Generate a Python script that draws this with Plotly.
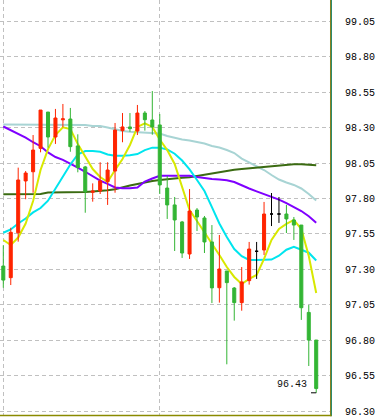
import plotly.graph_objects as go

# ---- data ----
opens = [97.324, 97.242, 97.559, 97.924, 97.989, 98.154, 98.410, 98.234, 98.355, 98.361,
         98.171, 98.023, 97.844, 97.853, 97.919, 97.994, 98.279, 98.305, 98.276, 98.403,
         98.354, 98.319, 97.874, 97.755, 97.635, 97.409, 97.719, 97.663, 97.494, 97.171,
         97.289, 97.169, 97.066, 97.221, 97.428, 97.437, 97.691, 97.691, 97.691, 97.649,
         97.613, 96.997, 96.802]
highs = [97.470, 97.594, 98.018, 97.994, 98.248, 98.424, 98.410, 98.432, 98.467, 98.439,
         98.253, 98.030, 97.907, 98.056, 98.056, 98.333, 98.403, 98.403, 98.460, 98.417,
         98.558, 98.396, 97.959, 97.811, 97.642, 97.867, 97.733, 97.677, 97.613, 97.543,
         97.289, 97.176, 97.317, 97.494, 97.494, 97.776, 97.839, 97.811, 97.755, 97.670,
         97.613, 97.049, 96.802]
lows = [97.171, 97.190, 97.496, 97.795, 97.841, 98.126, 98.159, 98.185, 98.302, 98.130,
        97.985, 97.700, 97.778, 97.832, 97.755, 97.841, 98.197, 98.271, 98.248, 98.279,
        98.250, 97.832, 97.656, 97.430, 97.381, 97.374, 97.571, 97.416, 97.063, 97.066,
        96.631, 96.939, 97.009, 97.193, 97.233, 97.402, 97.606, 97.628, 97.557, 97.508,
        96.944, 96.619, 96.430]
closes = [97.225, 97.562, 97.931, 97.980, 98.142, 98.424, 98.234, 98.368, 98.362, 98.166,
          98.018, 97.848, 97.853, 97.924, 98.001, 98.283, 98.305, 98.293, 98.403, 98.356,
          98.305, 97.896, 97.755, 97.649, 97.416, 97.712, 97.670, 97.494, 97.170, 97.303,
          97.207, 97.066, 97.212, 97.444, 97.428, 97.691, 97.691, 97.691, 97.656, 97.613,
          97.030, 96.802, 96.460]

ma_yellow = [97.508, 97.472, 97.525, 97.624, 97.783, 98.001, 98.149, 98.248, 98.302, 98.290,
             98.185, 98.093, 98.008, 97.952, 97.917, 98.001, 98.079, 98.178, 98.305, 98.331,
             98.305, 98.216, 98.142, 98.044, 97.874, 97.719, 97.642, 97.564, 97.480, 97.402,
             97.317, 97.247, 97.197, 97.233, 97.261, 97.374, 97.508, 97.585, 97.621, 97.649,
             97.585, 97.395, 97.134]
ma_cyan = [97.559, 97.582, 97.624, 97.659, 97.702, 97.733, 97.785, 97.871, 97.956, 98.040,
           98.111, 98.135, 98.135, 98.130, 98.111, 98.102, 98.102, 98.105, 98.114, 98.142,
           98.159, 98.159, 98.146, 98.116, 98.068, 98.005, 97.931, 97.853, 97.740, 97.624,
           97.529, 97.444, 97.393, 97.367, 97.367, 97.367, 97.370, 97.397, 97.439, 97.460,
           97.439, 97.418, 97.363]
ma_purple = [98.308, 98.281, 98.259, 98.229, 98.197, 98.169, 98.125, 98.093, 98.073, 98.047,
             98.018, 97.989, 97.956, 97.927, 97.903, 97.878, 97.872, 97.872, 97.878, 97.920,
             97.941, 97.961, 97.961, 97.961, 97.961, 97.961, 97.952, 97.943, 97.938, 97.934,
             97.929, 97.917, 97.892, 97.871, 97.851, 97.832, 97.809, 97.792, 97.767, 97.740,
             97.712, 97.675, 97.630]
ma_light = [98.322, 98.322, 98.322, 98.322, 98.322, 98.322, 98.322, 98.322, 98.324, 98.324,
            98.324, 98.319, 98.312, 98.312, 98.301, 98.287, 98.276, 98.271, 98.269, 98.267,
            98.262, 98.259, 98.241, 98.227, 98.216, 98.209, 98.201, 98.188, 98.171, 98.160,
            98.142, 98.121, 98.082, 98.054, 98.026, 98.001, 97.966, 97.934, 97.913, 97.896,
            97.871, 97.832, 97.786]
ma_dark = [97.830, 97.830, 97.830, 97.830, 97.830, 97.832, 97.843, 97.843, 97.843, 97.844,
           97.846, 97.846, 97.850, 97.853, 97.858, 97.865, 97.881, 97.892, 97.903, 97.915,
           97.924, 97.931, 97.938, 97.943, 97.947, 97.950, 97.959, 97.968, 97.978, 97.987,
           97.996, 98.003, 98.008, 98.013, 98.018, 98.020, 98.027, 98.033, 98.040, 98.042,
           98.042, 98.037, 98.035]

y_ticks = [96.30, 96.55, 96.80, 97.05, 97.30, 97.55, 97.80, 98.05, 98.30, 98.55, 98.80, 99.05]
y_tick_text = ["96.30", "96.55", "96.80", "97.05", "97.30", "97.55", "97.80", "98.05",
               "98.30", "98.55", "98.80", "99.05"]
x_grid = [0, 21]

# ---- styles ----
UP = "#ff2400"
DOWN = "#33b534"
DOJI = "#000000"
X_RANGE = [-0.443, 43.85]
Y_RANGE = [96.2735, 99.2002]
GRID = "#c0c0c0"
FONT = "Liberation Mono"

idx = list(range(len(opens)))

fig = go.Figure()

# moving averages (base subplot)
for vals, col in [(ma_light, "#a8d4d4"), (ma_dark, "#3b6b12"), (ma_purple, "#7f00ff"),
                  (ma_cyan, "#00e5ee"), (ma_yellow, "#d8e800")]:
    fig.add_trace(go.Scatter(x=idx, y=vals, mode="lines",
                             line=dict(color=col, width=2), hoverinfo="skip",
                             showlegend=False, xaxis="x", yaxis="y"))

# candles (overlay subplot so they sit above the lines)
def pick(cond):
    sel = [i for i in idx if cond(opens[i], closes[i])]
    return (sel, [opens[i] for i in sel], [highs[i] for i in sel],
            [lows[i] for i in sel], [closes[i] for i in sel])

for cond, col in [(lambda o, c: c > o, UP), (lambda o, c: c < o, DOWN),
                  (lambda o, c: c == o, DOJI)]:
    xs, o, h, l, c = pick(cond)
    fig.add_trace(go.Candlestick(
        x=xs, open=o, high=h, low=l, close=c,
        increasing=dict(line=dict(color=col, width=1), fillcolor=col),
        decreasing=dict(line=dict(color=col, width=1), fillcolor=col),
        whiskerwidth=0, showlegend=False, hoverinfo="skip",
        xaxis="x2", yaxis="y2"))

# lowest-price marker and label
imin = min(idx, key=lambda i: lows[i])
fig.add_shape(type="line", xref="x2", yref="y2", x0=imin - 0.7, x1=imin,
              y0=lows[imin], y1=lows[imin], line=dict(color="#000000", width=1))
fig.add_annotation(x=imin, y=lows[imin], xref="x2", yref="y2",
                   text=f"{lows[imin]:.2f}", showarrow=False,
                   xanchor="right", yanchor="bottom", xshift=-7, yshift=1,
                   font=dict(family=FONT, size=10, color="#101010"))

# frame lines
fig.add_shape(type="line", xref="paper", yref="paper", x0=1.0015, x1=1.0015,
              y0=-0.003, y1=1, line=dict(color="#8a8020", width=1))
fig.add_shape(type="line", xref="paper", yref="paper", x0=1.0045, x1=1.0045,
              y0=-0.003, y1=1, line=dict(color="#2a8a6a", width=1))
fig.add_shape(type="line", xref="paper", yref="paper", x0=0, x1=1.0045,
              y0=-0.0015, y1=-0.0015, line=dict(color="#8a8a00", width=1.5))

fig.update_layout(
    width=381, height=418,
    margin=dict(l=0, r=51, t=0, b=3),
    paper_bgcolor="white", plot_bgcolor="white",
    showlegend=False, boxgap=0.42,
    xaxis=dict(range=X_RANGE, tickvals=x_grid, showticklabels=False, ticks="",
               showgrid=True, gridcolor=GRID, gridwidth=1, griddash="4px,3px",
               zeroline=False, showline=False, rangeslider=dict(visible=False),
               fixedrange=True),
    yaxis=dict(range=Y_RANGE, side="right", tickvals=y_ticks, ticktext=y_tick_text,
               ticks="", ticklabelstandoff=14, showgrid=True, gridcolor=GRID,
               gridwidth=1, griddash="4px,3px", zeroline=False, showline=False,
               tickfont=dict(family=FONT, size=10, color="#000000"), fixedrange=True),
    xaxis2=dict(overlaying="x", range=X_RANGE, visible=False, showgrid=False,
                rangeslider=dict(visible=False), fixedrange=True),
    yaxis2=dict(overlaying="y", range=Y_RANGE, visible=False, showgrid=False,
                fixedrange=True),
)

fig.write_html("out.html")
